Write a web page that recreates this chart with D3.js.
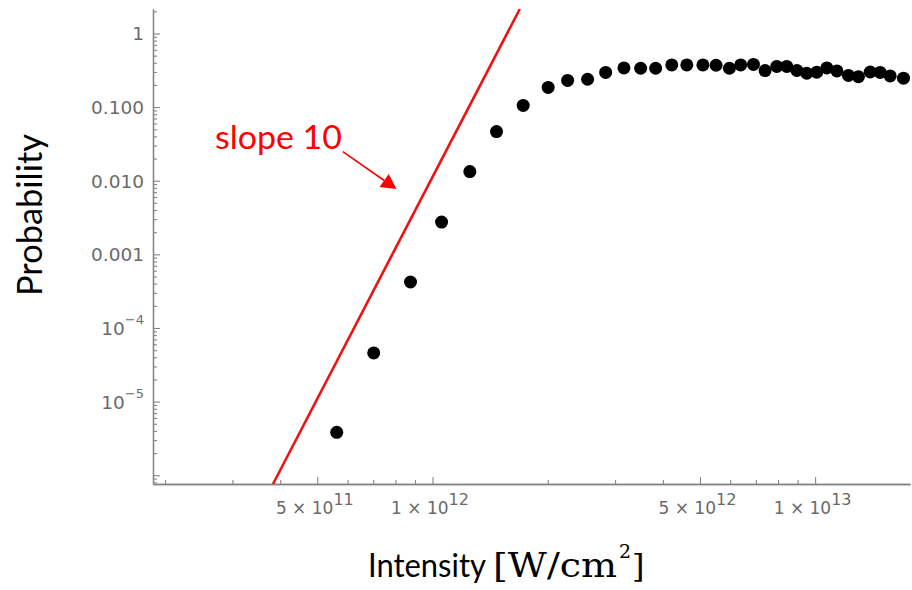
<!DOCTYPE html>
<html><head><meta charset="utf-8">
<script src="https://cdn.jsdelivr.net/npm/d3@7"></script>
<style>html,body{margin:0;padding:0;background:#fff;} svg{display:block}</style>
</head><body>
<svg id="chart" width="912" height="590"></svg>
<script>
// ---- data ----
const intensity = [5.62e11, 7.02e11, 8.76e11, 1.056e12, 1.252e12, 1.47e12, 1.726e12, 2.006e12, 2.255e12, 2.543e12,
  2.835e12, 3.165e12, 3.50e12, 3.83e12, 4.22e12, 4.62e12, 5.09e12, 5.51e12, 5.97e12, 6.39e12,
  6.90e12, 7.40e12, 7.94e12, 8.43e12, 8.96e12, 9.51e12, 1.010e13, 1.073e13, 1.140e13, 1.222e13,
  1.298e13, 1.393e13, 1.479e13, 1.571e13, 1.702e13];
const probability = [3.83e-6, 4.58e-5, 4.21e-4, 2.74e-3, 1.33e-2, 4.65e-2, 0.1055, 0.185, 0.230, 0.239,
  0.296, 0.340, 0.337, 0.337, 0.374, 0.374, 0.374, 0.370, 0.337, 0.374,
  0.380, 0.313, 0.357, 0.357, 0.315, 0.288, 0.298, 0.340, 0.310, 0.269,
  0.259, 0.300, 0.296, 0.265, 0.247];
const slopeLineI = [3.83e11, 1.691e12];
const slopeLineP = [7.6e-7, 2.15];
const xDomain = [1.86e11, 1.77e13];
const yDomain = [7.6e-7, 2.15];
const xTickValues = [5e11, 1e12, 5e12, 1e13];
const xTickBase = ["5 × 10", "1 × 10", "5 × 10", "1 × 10"];
const xTickExp = ["11", "12", "12", "13"];
const yTickValues = [1, 0.1, 0.01, 0.001, 1e-4, 1e-5];
const yTickBase = ["1", "0.100", "0.010", "0.001", "10", "10"];
const yTickExp = ["", "", "", "", "−4", "−5"];
const annotationText = "slope 10";
const annotationTextAt = [5.80e11, 0.0271];
const arrowFrom = [5.83e11, 0.0249];
const arrowTo = [8.05e11, 7.69e-3];

// ---- drawing ----
const svg = d3.select("#chart");
const x = d3.scaleLog().domain(xDomain).range([153, 910]);
const y = d3.scaleLog().domain(yDomain).range([484, 9]);
const axisColor = "#858585";
const labelColor = "#6a6a6a";

const isPow10 = v => Math.abs(Math.log10(v) - Math.round(Math.log10(v))) < 1e-9;
const xAll = x.ticks();
const xMinor = xAll.filter(v => !xTickValues.some(t => Math.abs(t - v) / t < 1e-9));
const yAll = y.ticks();
const yMajor = yAll.filter(isPow10);
const yMinor = yAll.filter(v => !isPow10(v));

function styleAxis(g) {
  g.selectAll("path.domain").attr("stroke", axisColor).attr("stroke-width", 1.3);
  g.selectAll(".tick line").attr("stroke", axisColor).attr("stroke-width", 1.1);
  g.selectAll(".tick text").remove();
}

// x axis
svg.append("g").attr("transform", "translate(0,484)")
  .call(d3.axisBottom(x).tickValues(xMinor).tickSize(-4).tickSizeOuter(0).tickFormat(""))
  .call(styleAxis);
svg.append("g").attr("transform", "translate(0,484)")
  .call(d3.axisBottom(x).tickValues(xTickValues).tickSize(-7).tickSizeOuter(0).tickFormat(""))
  .call(styleAxis);
// y axis
svg.append("g").attr("transform", "translate(153,0)")
  .call(d3.axisLeft(y).tickValues(yMinor).tickSize(-4).tickSizeOuter(0).tickFormat(""))
  .call(styleAxis);
svg.append("g").attr("transform", "translate(153,0)")
  .call(d3.axisLeft(y).tickValues(yMajor).tickSize(-7).tickSizeOuter(0).tickFormat(""))
  .call(styleAxis);

// x tick labels
xTickValues.forEach((v, i) => {
  const t = svg.append("text")
    .attr("x", x(v) - 2.5).attr("y", 514)
    .attr("text-anchor", "middle")
    .attr("font-family", "DejaVu Sans").attr("font-size", 17)
    .attr("fill", labelColor);
  t.append("tspan").text(xTickBase[i]);
  t.append("tspan").attr("dy", -9).attr("font-size", 16).text(xTickExp[i]);
});
// y tick labels
yTickValues.forEach((v, i) => {
  const t = svg.append("text")
    .attr("x", 144).attr("y", y(v) + 7)
    .attr("text-anchor", "end")
    .attr("font-family", "DejaVu Sans").attr("font-size", 18.5)
    .attr("fill", labelColor);
  t.append("tspan").text(yTickBase[i]);
  if (yTickExp[i]) t.append("tspan").attr("dy", -11).attr("font-size", 13).text(yTickExp[i]);
});

// slope line
svg.append("path")
  .datum(slopeLineI.map((v, i) => [v, slopeLineP[i]]))
  .attr("d", d3.line().x(d => x(d[0])).y(d => y(d[1])))
  .attr("fill", "none").attr("stroke", "#f01212").attr("stroke-width", 2.6);

// points
svg.append("g").selectAll("circle")
  .data(intensity.map((v, i) => [v, probability[i]]))
  .join("circle")
  .attr("cx", d => x(d[0])).attr("cy", d => y(d[1])).attr("r", 6.5)
  .attr("fill", "#000");

// annotation
svg.append("text")
  .attr("x", x(annotationTextAt[0])).attr("y", y(annotationTextAt[1]))
  .attr("text-anchor", "end")
  .attr("font-family", "Lato").attr("font-size", 32)
  .attr("textLength", 127).attr("lengthAdjust", "spacingAndGlyphs")
  .attr("fill", "#ff0000").text(annotationText);
{
  const x0 = x(arrowFrom[0]), y0 = y(arrowFrom[1]);
  const x1 = x(arrowTo[0]), y1 = y(arrowTo[1]);
  const ang = Math.atan2(y1 - y0, x1 - x0);
  const headLen = 15, headHalf = 8;
  const bx = x1 - headLen * Math.cos(ang), by = y1 - headLen * Math.sin(ang);
  svg.append("line").attr("x1", x0).attr("y1", y0).attr("x2", bx).attr("y2", by)
    .attr("stroke", "#ff0000").attr("stroke-width", 1.6);
  const px = -Math.sin(ang), py = Math.cos(ang);
  svg.append("path")
    .attr("d", `M${x1},${y1}L${bx + px * headHalf},${by + py * headHalf}L${bx - px * headHalf},${by - py * headHalf}Z`)
    .attr("fill", "#ff0000");
}

// axis titles
svg.append("text")
  .attr("transform", "translate(41.5,215) rotate(-90)")
  .attr("text-anchor", "middle")
  .attr("font-family", "Lato").attr("font-size", 35)
  .attr("textLength", 162).attr("lengthAdjust", "spacingAndGlyphs")
  .attr("fill", "#000").text("Probability");
svg.append("text")
  .attr("x", 368).attr("y", 577)
  .attr("font-family", "Lato").attr("font-size", 33)
  .attr("textLength", 118).attr("lengthAdjust", "spacingAndGlyphs")
  .attr("fill", "#000").text("Intensity");
svg.append("text")
  .attr("x", 493).attr("y", 577)
  .attr("font-family", "DejaVu Serif").attr("font-size", 33)
  .attr("textLength", 124).attr("lengthAdjust", "spacingAndGlyphs")
  .attr("fill", "#000").text("[W/cm");
svg.append("text")
  .attr("x", 619).attr("y", 558)
  .attr("font-family", "DejaVu Serif").attr("font-size", 19)
  .attr("fill", "#000").text("2");
svg.append("text")
  .attr("x", 632).attr("y", 577)
  .attr("font-family", "DejaVu Serif").attr("font-size", 32)
  .attr("fill", "#000").text("]");
</script>
</body></html>
